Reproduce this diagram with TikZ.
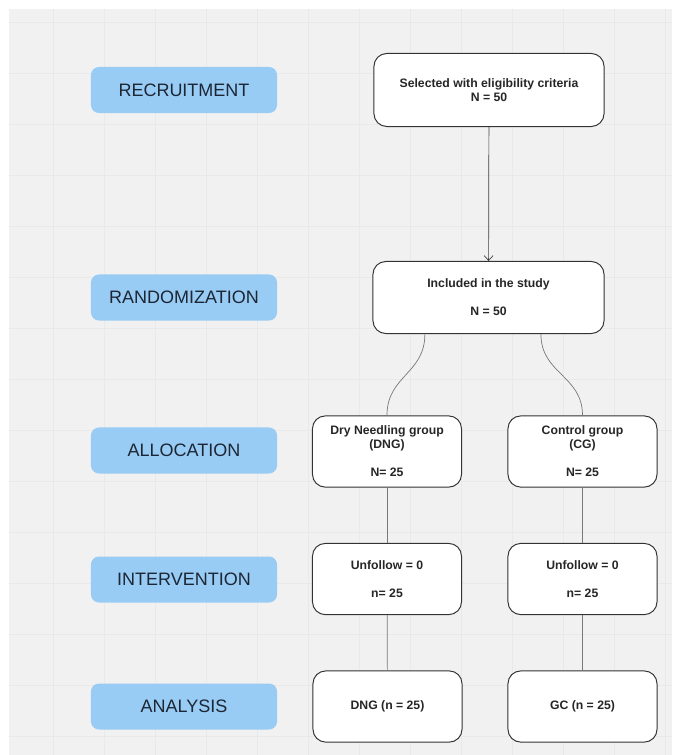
\documentclass[tikz,border=0pt]{standalone}
\usepackage{fontspec}
\setmainfont{Liberation Sans}
\usetikzlibrary{arrows.meta}
\definecolor{StageBlue}{RGB}{153,204,245}
\definecolor{StageText}{RGB}{28,38,52}
\definecolor{CanvasGray}{RGB}{241,241,241}
\definecolor{GridGray}{RGB}{233,233,233}
\definecolor{EdgeGray}{RGB}{120,120,120}
\tikzset{
	stage/.style={fill=StageBlue, text=StageText, rounded corners=0.2cm, inner sep=0pt,
		minimum width=4.65cm, minimum height=1.15cm, font=\fontsize{12.8}{15}\selectfont},
	flowbox/.style={draw=black!80, fill=white, line width=0.7pt, rounded corners=0.32cm,
		inner sep=0pt, align=center, text=black!85, font=\fontsize{8.7}{9.9}\selectfont\bfseries},
	groupbox/.style={flowbox, minimum width=3.725cm, minimum height=1.78cm},
	link/.style={draw=EdgeGray, line width=0.5pt}
}

\begin{document}
\begin{tikzpicture}[x=0.025cm, y=-0.025cm]
	\useasboundingbox (0,0) rectangle (672,755);
	% canvas and grid
	\fill[CanvasGray] (9,9) rectangle (672,755);
	\foreach \gx in {53,104,...,665}
	\draw[GridGray, line width=0.5pt] (\gx,9) -- (\gx,755);
	\foreach \gy in {22,73,...,750}
	\draw[GridGray, line width=0.5pt] (9,\gy) -- (672,\gy);

	% stages on the left
	\node[stage] (recruit) at (184,90) {RECRUITMENT};
	\node[stage] (random) at (184,297.5) {RANDOMIZATION};
	\node[stage] (alloc) at (184,450.5) {ALLOCATION};
	\node[stage] (interv) at (184,579.5) {INTERVENTION};
	\node[stage] (analysis) at (184,706.5) {ANALYSIS};

	% flow boxes
	\node[flowbox, minimum width=5.75cm, minimum height=1.825cm] (select) at (489,90)
		{Selected with eligibility criteria\\N = 50};
	\node[flowbox, minimum width=5.775cm, minimum height=1.8cm] (incl) at (488.5,297.5)
		{Included in the study\\[9.9pt]N = 50};
	\node[groupbox] (dng) at (387,451.5) {Dry Needling group\\(DNG)\\[9.9pt]N= 25};
	\node[groupbox] (cg) at (582.5,451.5) {Control group\\(CG)\\[9.9pt]N= 25};
	\node[groupbox] (unfdng) at (387,579) {Unfollow = 0\\[9.9pt]n= 25};
	\node[groupbox] (unfcg) at (582.5,579) {Unfollow = 0\\[9.9pt]n= 25};
	\node[groupbox] (andng) at (387.5,706.5) {DNG (n = 25)};
	\node[groupbox] (angc) at (582.5,706.5) {GC (n = 25)};

	% connectors
	\draw[-{Straight Barb[length=0.12cm, width=0.22cm]}, draw=black!75, line width=0.5pt] (select) -- (incl);
	\draw[link] ([xshift=-1.59cm]incl.south) .. controls +(0,40) and +(0,-40) .. (dng.north);
	\draw[link] ([xshift=1.31cm]incl.south) .. controls +(0,40) and +(0,-40) .. (cg.north);
	\draw[link] (dng) -- (unfdng);
	\draw[link] (unfdng) -- (andng);
	\draw[link] (cg) -- (unfcg);
	\draw[link] (unfcg) -- (angc);
\end{tikzpicture}
\end{document}
